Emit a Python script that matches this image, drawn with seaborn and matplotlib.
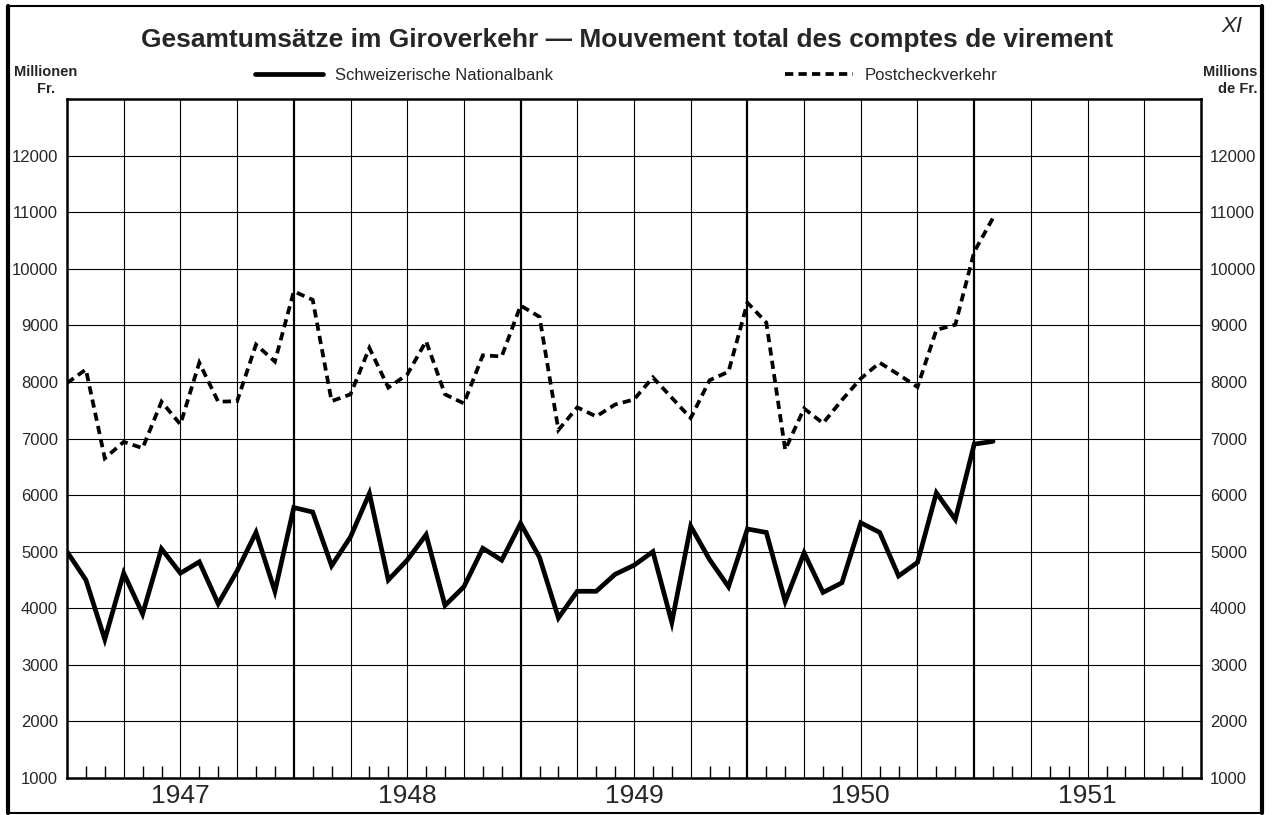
import numpy as np
import matplotlib
matplotlib.use("Agg")
import matplotlib.pyplot as plt
import seaborn as sns
from matplotlib.lines import Line2D
from matplotlib.patches import Rectangle

# ---------------- data ----------------
years = ["1947", "1948", "1949", "1950", "1951"]
series_names = ["Schweizerische Nationalbank", "Postcheckverkehr"]
title = "Gesamtumsätze im Giroverkehr — Mouvement total des comptes de virement"
y_ticks = [1000, 2000, 3000, 4000, 5000, 6000, 7000, 8000, 9000, 10000, 11000, 12000]

# monthly values (Mio. Fr.), starting at the beginning of 1947
snb_values = [5000, 4500, 3450, 4620, 3900, 5050, 4620, 4820, 4080, 4660, 5340, 4300,
              5780, 5700, 4750, 5260, 6030, 4500, 4850, 5300, 4050, 4380, 5060, 4850,
              5500, 4900, 3830, 4300, 4300, 4600, 4760, 5000, 3750, 5450, 4860, 4380,
              5400, 5340, 4120, 4980, 4280, 4450, 5510, 5340, 4570, 4810, 6040, 5570,
              6900, 6950]
post_values = [7980, 8220, 6650, 6940, 6830, 7650, 7250, 8340, 7650, 7660, 8660, 8360,
               9600, 9450, 7660, 7780, 8600, 7900, 8130, 8720, 7780, 7620, 8470, 8450,
               9350, 9150, 7150, 7550, 7390, 7600, 7690, 8080, 7720, 7360, 8030, 8180,
               9400, 9050, 6800, 7530, 7270, 7680, 8060, 8340, 8130, 7910, 8920, 9010,
               10300, 10900]

# ---------------- style ----------------
sns.set_theme(style="white")
plt.rcParams["font.family"] = ["Liberation Sans", "DejaVu Sans"]

W, H = 1273, 815
fig = plt.figure(figsize=(W / 100, H / 100), dpi=100)
fig.patch.set_facecolor("white")

L, R, T, B = 67, 1201, 99, 778
ax = fig.add_axes([L / W, 1 - B / H, (R - L) / W, (B - T) / H])

months = np.arange(len(snb_values))
n_months = 12 * len(years)

sns.lineplot(x=months, y=snb_values, color="black", lw=3.4, ax=ax,
             label=series_names[0], solid_joinstyle="miter")
sns.lineplot(x=months, y=post_values, color="black", lw=2.7, ax=ax,
             label=series_names[1], linestyle=(0, (2.2, 1.4)),
             dash_joinstyle="miter")

ax.set_xlim(0, n_months)
ax.set_ylim(1000, 13000)

# horizontal grid
ax.set_yticks(y_ticks)
ax.set_yticklabels([str(v) for v in y_ticks])
ax.grid(axis="y", color="black", lw=0.8)
ax.grid(axis="x", visible=False)

# quarter / year vertical lines
for q in range(3, n_months, 3):
    ax.axvline(q, color="black", lw=1.6 if q % 12 == 0 else 0.8, zorder=1)

# x ticks: year labels centered, month ticks
ax.set_xticks([12 * i + 6 for i in range(len(years))])
ax.set_xticklabels(years, fontsize=19)
ax.set_xticks([m for m in range(1, n_months) if m % 3], minor=True)
ax.tick_params(axis="x", which="major", length=0, pad=4)
ax.tick_params(axis="x", which="minor", direction="in", length=9, width=1.0,
               color="black", bottom=True)
ax.tick_params(axis="y", which="both", left=False, right=False,
               labelleft=True, labelright=True, labelsize=12, pad=0.5)
ax.set_xlabel("")
ax.set_ylabel("")

for s in ax.spines.values():
    s.set_visible(True)
    s.set_color("black")
    s.set_linewidth(1.8)

# legend
leg = ax.legend(loc="center left", bbox_to_anchor=(255 / W, 1 - 75 / H),
                bbox_transform=fig.transFigure, ncol=2, frameon=False, fontsize=12,
                handlelength=4.1, handletextpad=0.7, columnspacing=13.9,
                borderpad=0, borderaxespad=0)

# texts
fig.text(627 / W, 1 - 40 / H, title, ha="center", va="center", fontsize=19,
         fontweight="bold")
fig.text(46 / W, 1 - 72 / H, "Millionen", ha="center", va="center",
         fontsize=10.5, fontweight="bold")
fig.text(46 / W, 1 - 89 / H, "Fr.", ha="center", va="center",
         fontsize=10.5, fontweight="bold")
fig.text(1257 / W, 1 - 72 / H, "Millions", ha="right", va="center",
         fontsize=10.5, fontweight="bold")
fig.text(1257 / W, 1 - 89 / H, "de Fr.", ha="right", va="center",
         fontsize=10.5, fontweight="bold")
fig.text(1232 / W, 1 - 27 / H, "XI", ha="center", va="center",
         fontsize=16, style="italic")

# outer frame
fig.patches.append(Rectangle((8 / W, 2 / H), (1262 - 8) / W, (809 - 2) / H,
                             transform=fig.transFigure, fill=False,
                             ec="black", lw=1.5))
fig.lines.append(Line2D([8 / W, 8 / W], [2 / H, 809 / H], transform=fig.transFigure,
                        color="black", lw=3))
fig.lines.append(Line2D([1262 / W, 1262 / W], [2 / H, 809 / H],
                        transform=fig.transFigure, color="black", lw=3))

fig.savefig("out.png", dpi=100)
